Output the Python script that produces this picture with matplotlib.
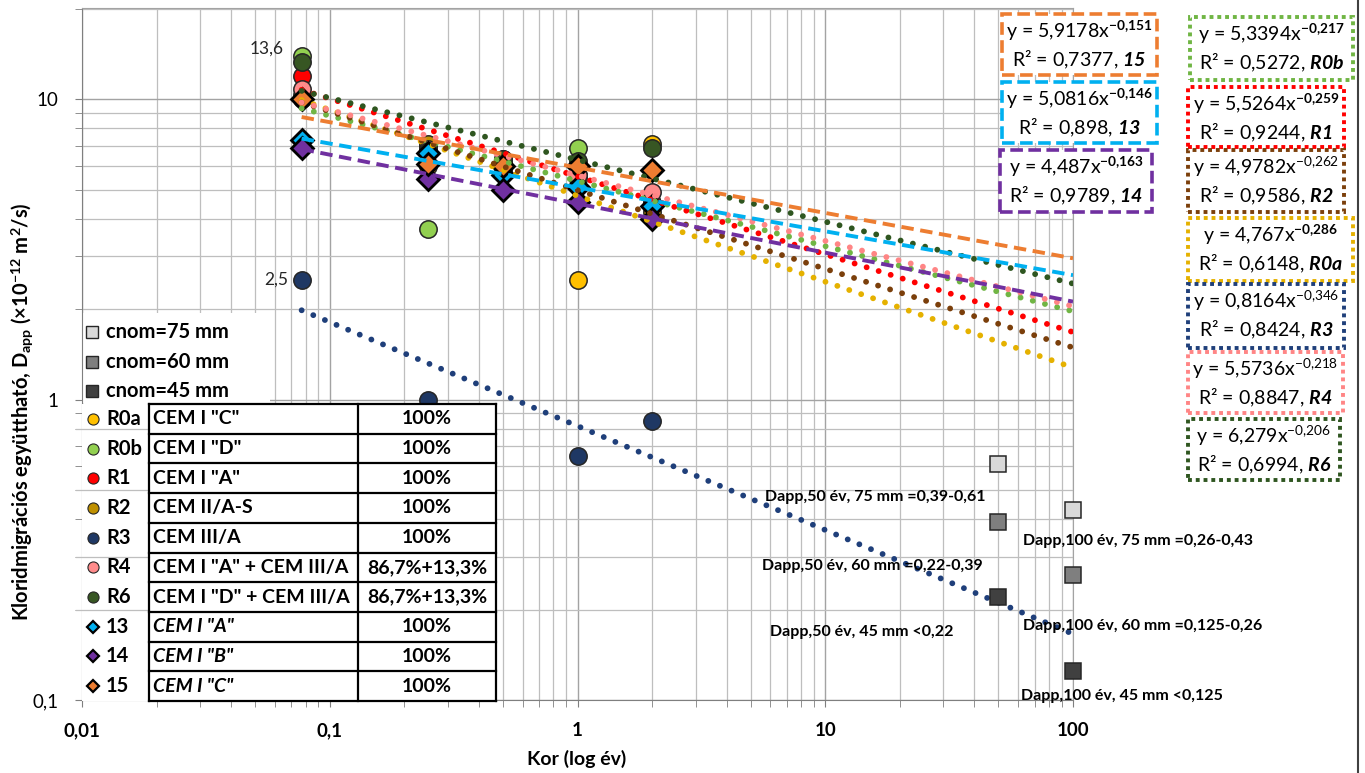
import numpy as np
import matplotlib.pyplot as plt
from matplotlib.lines import Line2D
from matplotlib.patches import Rectangle
from matplotlib.ticker import LogLocator, NullFormatter

plt.rcParams['font.family'] = ['Lato', 'DejaVu Sans']
plt.rcParams['mathtext.fontset'] = 'custom'
plt.rcParams['mathtext.rm'] = 'Lato'
plt.rcParams['mathtext.it'] = 'Lato:italic'
plt.rcParams['mathtext.bf'] = 'Lato:bold'
plt.rcParams['mathtext.bfit'] = 'Lato:bold:italic'

W, H = 1365, 773

# series data (age in years, D_app in 1e-12 m2/s)
series_ids = ['R0a', 'R0b', 'R1', 'R2', 'R3', 'R4', 'R6', '13', '14', '15']
ages = [
    [0.077, 0.25, 0.5, 1, 2],
    [0.077, 0.25, 0.5, 1, 2],
    [0.077, 0.25, 0.5, 1, 2],
    [0.077, 0.25, 0.5, 1, 2],
    [0.077, 0.25, 1, 2],
    [0.077, 0.25, 0.5, 1, 2],
    [0.077, 0.25, 0.5, 1, 2],
    [0.077, 0.25, 0.5, 1, 2],
    [0.077, 0.25, 0.5, 1, 2],
    [0.077, 0.25, 0.5, 1, 2],
]
dapp = [
    [10.3, 6.0, 5.7, 2.5, 7.1],
    [13.9, 3.7, 5.9, 6.9, 4.5],
    [11.9, 7.0, 6.2, 5.6, 4.5],
    [10.0, 7.1, 6.0, 5.4, 4.2],
    [2.5, 1.0, 0.65, 0.85],
    [10.8, 6.8, 6.3, 5.6, 4.9],
    [13.3, 6.7, 6.3, 6.2, 6.9],
    [7.3, 6.6, 5.6, 5.1, 4.4],
    [6.9, 5.4, 5.0, 4.55, 4.0],
    [10.0, 6.1, 6.0, 6.0, 5.8],
]

# power trendlines y = a * x^b shown on the chart
fit_a = [4.767, 5.3394, 5.5264, 4.9782, 0.8164, 5.5736, 6.279, 5.0816, 4.487, 5.9178]
fit_b = [-0.286, -0.217, -0.259, -0.262, -0.346, -0.218, -0.206, -0.146, -0.163, -0.151]
fit_r2 = [0.6148, 0.5272, 0.9244, 0.9586, 0.8424, 0.8847, 0.6994, 0.898, 0.9789, 0.7377]
fit_bold_exp = [True, True, True, False, False, False, False, True, True, True]

binders = ['CEM I "C"', 'CEM I "D"', 'CEM I "A"', 'CEM II/A-S', 'CEM III/A',
           'CEM I "A" + CEM III/A', 'CEM I "D" + CEM III/A',
           'CEM I "A"', 'CEM I "B"', 'CEM I "C"']
shares = ['100%', '100%', '100%', '100%', '100%',
          '86,7%+13,3%', '86,7%+13,3%', '100%', '100%', '100%']

# design-life limits for cover depths
limit_ages = [50, 100]
cnom_labels = ['cnom=75 mm', 'cnom=60 mm', 'cnom=45 mm']
limit_vals = [[0.61, 0.43], [0.39, 0.26], [0.22, 0.125]]
limit_texts = [
    ['Dapp,50 év, 75 mm =0,39-0,61', 'Dapp,100 év, 75 mm =0,26-0,43'],
    ['Dapp,50 év, 60 mm =0,22-0,39', 'Dapp,100 év, 60 mm =0,125-0,26'],
    ['Dapp,50 év, 45 mm <0,22', 'Dapp,100 év, 45 mm <0,125'],
]

marker_col = ['#FFC000', '#92D050', '#FF0000', '#BF9000', '#1F3864',
              '#FF8B8B', '#375623', '#00B0F0', '#7030A0', '#ED7D31']
trend_col = ['#E5B100', '#70B544', '#FF0000', '#7B3F0B', '#1F3F7A',
             '#FF8585', '#2F5620', '#00B0F0', '#7030A0', '#ED7D31']
square_col = ['#D9D9D9', '#7F7F7F', '#404040']


def fx(x):
    return x / W


def fy(y):
    return 1 - y / H


fig = plt.figure(figsize=(W / 100, H / 100), dpi=100)
ax = fig.add_axes([fx(82), fy(700), fx(1073) - fx(82), fy(8) - fy(700)])
ax.set_xscale('log')
ax.set_yscale('log')
ax.set_xlim(0.01, 100)
ax.set_ylim(0.1, 20.1)

ax.grid(which='major', color='#A3A3A3', lw=1.0)
ax.grid(which='minor', color='#BEBEBE', lw=0.9)
ax.set_axisbelow(True)
ax.yaxis.set_minor_locator(LogLocator(base=10, subs=np.arange(2, 10)))
ax.xaxis.set_minor_locator(LogLocator(base=10, subs=np.arange(2, 10)))
ax.xaxis.set_minor_formatter(NullFormatter())
ax.yaxis.set_minor_formatter(NullFormatter())
ax.set_xticks([0.01, 0.1, 1, 10, 100])
ax.set_xticklabels(['0,01', '0,1', '1', '10', '100'], fontweight='bold', fontsize=13.5)
ax.set_yticks([0.1, 1, 10])
ax.set_yticklabels(['0,1', '1', '10'], fontsize=13.5)
ax.tick_params(axis='both', which='both', direction='out', length=5, color='#7F7F7F')
ax.tick_params(axis='x', pad=11)
ax.tick_params(axis='y', pad=12)
for s in ['left', 'bottom']:
    ax.spines[s].set_color('#7F7F7F')
for s in ['top', 'right']:
    ax.spines[s].set_color('#A3A3A3')

# white backing behind the cnom legend
ax.add_patch(Rectangle((fx(82), fy(403)), fx(270) - fx(82), fy(313) - fy(403),
                       transform=fig.transFigure, facecolor='white', edgecolor='none',
                       zorder=0.8, clip_on=False))

# data points
for i, sid in enumerate(series_ids):
    diamond = sid in ('13', '14', '15')
    ax.plot(ages[i], dapp[i], ls='none',
            marker='D' if diamond else 'o',
            ms=11 if diamond else 12.5,
            mfc=marker_col[i], mec='black' if diamond else '#262626',
            mew=2.0 if diamond else 1.1, zorder=2 + i * 0.01)

# trendlines
xt = np.logspace(np.log10(0.077), 2, 300)
for i, sid in enumerate(series_ids):
    yt = fit_a[i] * xt ** fit_b[i]
    if sid in ('13', '14', '15'):
        ax.plot(xt, yt, color=trend_col[i], lw=2.8, ls=(0, (3.2, 1.7)), zorder=3)
    else:
        ax.plot(xt, yt, color=trend_col[i], lw=4.2, ls=(0, (0.01, 2.15)),
                dash_capstyle='round', zorder=3)

# limit squares and labels
for j in range(3):
    ax.plot(limit_ages, limit_vals[j], ls='none', marker='s', ms=11.5,
            mfc=square_col[j], mec='#262626', mew=1.1, zorder=4, clip_on=False)

lab_pos = [[(765, 497), (1023, 541)], [(762, 566), (1023, 626)], [(770, 632), (1021, 696)]]
for j in range(3):
    for k in range(2):
        px, py = lab_pos[j][k]
        fig.text(fx(px), fy(py), limit_texts[j][k], fontsize=11.5, fontweight='bold',
                 ha='left', va='center', zorder=5)

# data labels
ax.annotate('13,6', xy=(ages[1][0], dapp[1][0]), xytext=(-35, 8), textcoords='offset pixels',
            ha='center', va='center', fontsize=12.5, color='#262626')
ax.annotate('2,5', xy=(ages[4][0], dapp[4][0]), xytext=(-25, 0), textcoords='offset pixels',
            ha='center', va='center', fontsize=12.5, color='#262626')

# axis titles
fig.text(fx(22), fy(412),
         r'Kloridmigrációs együttható, D$_{\mathbf{app}}$ (×10$^{\mathbf{-12}}$ m$^{\mathbf{2}}$/s)',
         rotation=90, ha='center', va='center', fontsize=14.5, fontweight='bold')
fig.text(fx(577), fy(759), 'Kor (log év)', ha='center', va='center', fontsize=14, fontweight='bold')

# cnom legend
for j in range(3):
    yc = 332 + j * 29.5
    fig.add_artist(Line2D([fx(92)], [fy(yc)], marker='s', ms=9, mfc=square_col[j],
                          mec='#262626', mew=1.0, transform=fig.transFigure))
    fig.text(fx(106), fy(yc), cnom_labels[j], fontsize=14.5, fontweight='bold',
             ha='left', va='center')

# series table
t_top, t_bot = 404, 701
row_h = (t_bot - t_top) / 10
fig.add_artist(Rectangle((fx(82), fy(t_bot)), fx(496) - fx(82), fy(t_top) - fy(t_bot),
                         transform=fig.transFigure, facecolor='white', edgecolor='none', zorder=1))
for yv in [0.8, 0.5, 0.3, 0.2]:
    fig.add_artist(Line2D([0.00945, 0.0186], [yv, yv], color='#BEBEBE', lw=0.9,
                          transform=ax.transData, zorder=1.5))
for i in range(11):
    yl = t_top + i * row_h
    fig.add_artist(Line2D([fx(149), fx(496)], [fy(yl), fy(yl)], color='black', lw=1.6,
                          transform=fig.transFigure, zorder=2))
for xl in [149, 358, 496]:
    fig.add_artist(Line2D([fx(xl), fx(xl)], [fy(t_top), fy(t_bot)], color='black', lw=1.6,
                          transform=fig.transFigure, zorder=2))
for i, sid in enumerate(series_ids):
    yc = t_top + (i + 0.5) * row_h
    diamond = sid in ('13', '14', '15')
    fig.add_artist(Line2D([fx(93)], [fy(yc)], marker='D' if diamond else 'o',
                          ms=6.5 if diamond else 8, mfc=marker_col[i],
                          mec='black' if diamond else '#262626',
                          mew=1.6 if diamond else 0.8, transform=fig.transFigure, zorder=3))
    fig.text(fx(106), fy(yc), sid, fontsize=14.5, fontweight='bold', ha='left', va='center')
    fig.text(fx(153), fy(yc), binders[i], fontsize=14, fontweight='bold',
             style='italic' if diamond else 'normal', ha='left', va='center')
    fig.text(fx(427), fy(yc), shares[i], fontsize=14, fontweight='bold', ha='center', va='center')

# trendline equation boxes
boxes = {
    '15': (1002, 14, 1157, 75), '13': (1002, 82, 1157, 143), '14': (1000, 150, 1152, 212),
    'R0b': (1190, 17, 1353, 80), 'R1': (1188, 87, 1344, 147), 'R2': (1188, 150, 1344, 212),
    'R0a': (1188, 218, 1353, 281), 'R3': (1188, 284, 1344, 348), 'R4': (1188, 352, 1343, 413),
    'R6': (1188, 419, 1340, 480),
}
for i, sid in enumerate(series_ids):
    x0, y0, x1, y1 = boxes[sid]
    dashed = sid in ('13', '14', '15')
    fig.add_artist(Rectangle((fx(x0), fy(y1)), fx(x1) - fx(x0), fy(y0) - fy(y1),
                             transform=fig.transFigure, facecolor='white',
                             edgecolor=trend_col[i], lw=2.6 if dashed else 2.8,
                             ls=(0, (3.5, 1.5)) if dashed else (0, (1, 1)), zorder=4))
    a_txt = str(fit_a[i]).replace('.', ',')
    b_txt = str(fit_b[i]).replace('.', '{,}')
    if fit_bold_exp[i]:
        eq = 'y = ' + a_txt + 'x$^{\\mathbf{' + b_txt + '}}$'
    else:
        eq = 'y = ' + a_txt + 'x$^{' + b_txt + '}$'
    r2 = 'R² = ' + str(fit_r2[i]).replace('.', ',') + ', $\\mathbfit{' + sid + '}$'
    xc = (x0 + x1) / 2
    fig.text(fx(xc), fy(y0 + 17), eq, fontsize=14, ha='center', va='center', zorder=5)
    fig.text(fx(xc), fy(y0 + 46), r2, fontsize=14, ha='center', va='center', zorder=5)

# chart area border on the right
fig.add_artist(Line2D([fx(1358), fx(1358)], [0, 1], color='#404040', lw=1.5,
                      transform=fig.transFigure))

fig.savefig('out.png', dpi=100)
